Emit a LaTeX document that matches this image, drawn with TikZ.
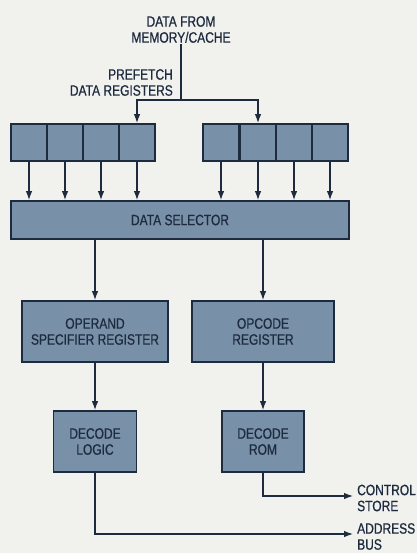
\documentclass[tikz,border=0pt]{standalone}
\usepackage{fontspec}
\setmainfont{Liberation Sans}[FakeStretch=0.8,FakeBold=0.7]
\usetikzlibrary{arrows.meta}
\definecolor{bg}{HTML}{F1F1EE}
\definecolor{boxfill}{HTML}{7890A8}
\definecolor{ink}{HTML}{1E2B3F}
\begin{document}
\begin{tikzpicture}[x=1pt,y=-1pt,
  every node/.style={text=ink,font=\fontsize{15}{16}\selectfont},
  blk/.style={draw=ink,line width=1.8pt,fill=boxfill,inner sep=0pt,align=center},
  cell/.style={blk,minimum width=36pt,minimum height=37pt},
  conn/.style={draw=ink,line width=1.2pt},
  arr/.style={conn,-{Latex[length=9pt,width=6.5pt]}},
  lbl/.style={align=left,inner sep=0pt}]
\fill[bg] (0,0) rectangle (417,553);
\useasboundingbox (0,0) rectangle (417,553);

% source
\node[align=center,anchor=south,inner sep=1pt] (src) at (181,44) {DATA FROM\\MEMORY/CACHE};
\node[align=right,anchor=south east,inner sep=0pt] (pf) at (173,96) {PREFETCH\\DATA REGISTERS};
\coordinate (j) at (181,100);

% registers
\node[cell] (L1) at (29,142.5) {};
\node[cell] (L2) at (65,142.5) {};
\node[cell] (L3) at (101,142.5) {};
\node[cell] (L4) at (137,142.5) {};
\node[cell] (R1) at (221,142.5) {};
\node[cell] (R2) at (258,142.5) {};
\node[cell] (R3) at (294,142.5) {};
\node[cell] (R4) at (330,142.5) {};

% selector
\node[blk,minimum width=338pt,minimum height=38pt] (sel) at (180,220) {DATA SELECTOR};

% registers 2
\node[blk,minimum width=146pt,minimum height=61pt] (osr) at (95,331.5) {OPERAND\\SPECIFIER REGISTER};
\node[blk,minimum width=142pt,minimum height=61pt] (ocr) at (263,331.5) {OPCODE\\REGISTER};

% decode
\node[blk,minimum width=83pt,minimum height=61pt] (dl) at (95,441.5) {DECODE\\LOGIC};
\node[blk,minimum width=82pt,minimum height=61pt] (dr) at (263,441.5) {DECODE\\ROM};

% outputs
\node[lbl,anchor=west] (cs) at (357,498) {CONTROL\\STORE};
\node[lbl,anchor=west] (ab) at (357,536.5) {ADDRESS\\BUS};
\coordinate (cst) at (353,496);
\coordinate (abt) at (353,534);

% connectors
\draw[conn] (src.south) -- (j);
\draw[arr] (j) -| (L4.north);
\draw[arr] (j) -| (R2.north);
\foreach \c in {L1,L2,L3,L4,R1,R2,R3,R4}
  \draw[arr] (\c.south) -- (\c.south |- sel.north);
\draw[arr] (osr.north |- sel.south) -- (osr.north);
\draw[arr] (ocr.north |- sel.south) -- (ocr.north);
\draw[arr] (osr.south) -- (dl.north);
\draw[arr] (ocr.south) -- (dr.north);
\draw[arr] (dr.south) |- (cst);
\draw[arr] (dl.south) |- (abt);
\end{tikzpicture}
\end{document}
